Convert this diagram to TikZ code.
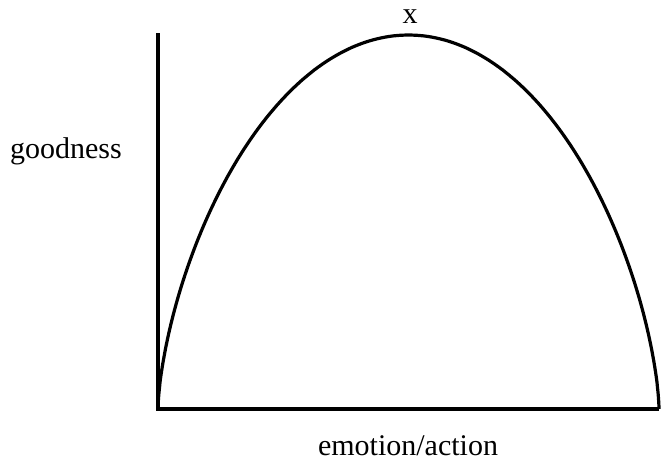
\documentclass[tikz,border=0pt]{standalone}
\usepackage{fontspec}
\setmainfont{Liberation Serif}
\begin{document}
\begin{tikzpicture}[x=1pt,y=-1pt,
  axisline/.style={line width=3.2pt},
  curveline/.style={line width=3.2pt, line join=round},
  lbl/.style={font=\fontsize{30}{36}\selectfont, inner sep=0pt, anchor=base}]
\useasboundingbox (0,0) rectangle (661,466);
\coordinate (origin) at (158,409);
\coordinate (ytop) at (158,33);
\coordinate (xend) at (659,409);
\draw[axisline] (ytop) -- (origin) -- (xend);
\draw[curveline] (origin) --
  plot[domain=179.5:0.5, samples=240, smooth, variable=\t]
  ({408.5+250.5*cos(\t)}, {409-374*pow(sin(\t),1.29)}) -- (xend);
\node[lbl] (peak) at (410,23) {x};
\node[lbl] (ylab) at (66,158) {goodness};
\node[lbl] (xlab) at (408,455) {emotion/action};
\end{tikzpicture}
\end{document}
